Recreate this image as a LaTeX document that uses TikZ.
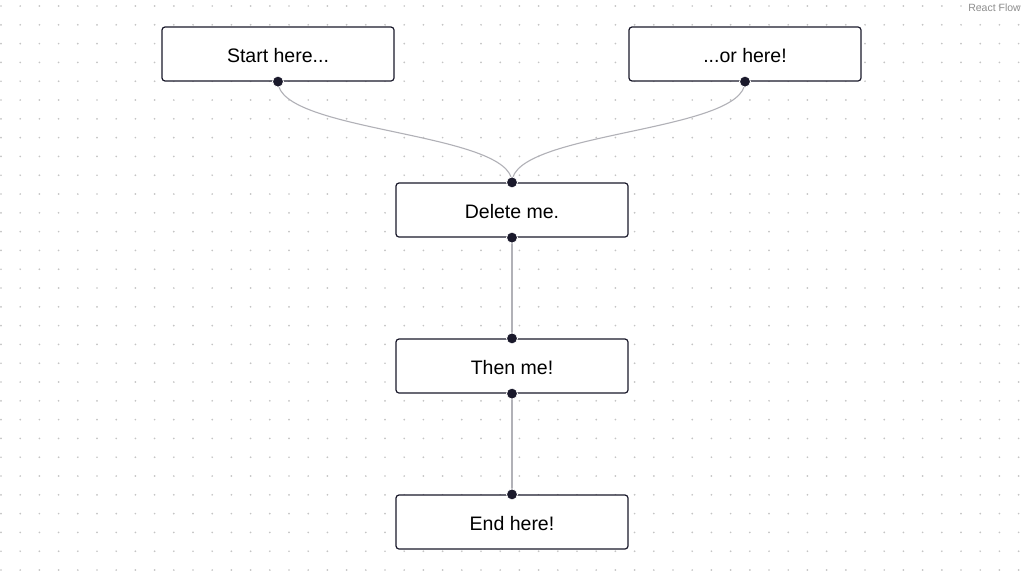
\documentclass[tikz,border=0pt]{standalone}
\usepackage{fontspec}
\setmainfont{Liberation Sans}
\usetikzlibrary{calc}
\definecolor{ink}{HTML}{1A192B}
\definecolor{edgegray}{HTML}{B1B1B7}
\definecolor{dotgray}{HTML}{C4C4C4}
\definecolor{attrib}{HTML}{8E8E8E}
\begin{document}
\begin{tikzpicture}[x=1pt,y=-1pt,
  flownode/.style={draw=ink, line width=1.2pt, rounded corners=3pt, fill=white,
    minimum width=232pt, minimum height=54pt, inner sep=0pt,
    text height=16pt, text depth=0pt,
    font=\fontsize{19.5}{23}\selectfont, text=black},
  handle/.style={circle, fill=ink, draw=white, line width=0.8pt, minimum size=11pt, inner sep=0pt},
  flowedge/.style={draw=edgegray, line width=1.1pt}]
\fill[white] (0,0) rectangle (1024,576);
\useasboundingbox (0,0) rectangle (1024,576);
\foreach \i in {0,...,53} {
  \foreach \j in {0,...,30} {
    \fill[dotgray] ({1+19.2*\i},{6+18.8*\j}) circle (0.95pt);
  }
}
\node[flownode] (a) at (278,54) {Start here...};
\node[flownode] (b) at (745,54) {...or here!};
\node[flownode] (c) at (512,210) {Delete me.};
\node[flownode] (d) at (512,366) {Then me!};
\node[flownode] (e) at (512,522) {End here!};
\draw[flowedge] (a.south) .. controls ($(a.south)+(0,51)$) and ($(c.north)+(0,-51)$) .. (c.north);
\draw[flowedge] (b.south) .. controls ($(b.south)+(0,51)$) and ($(c.north)+(0,-51)$) .. (c.north);
\draw[flowedge] (c.south) -- (d.north);
\draw[flowedge] (d.south) -- (e.north);
\node[handle] (ha) at (a.south) {};
\node[handle] (hb) at (b.south) {};
\node[handle] (hct) at (c.north) {};
\node[handle] (hcb) at (c.south) {};
\node[handle] (hdt) at (d.north) {};
\node[handle] (hdb) at (d.south) {};
\node[handle] (het) at (e.north) {};
\node[font=\fontsize{10.5}{12}\selectfont, text=attrib, anchor=east, inner sep=0pt] (rf) at (1021,8) {React Flow};
\end{tikzpicture}
\end{document}
